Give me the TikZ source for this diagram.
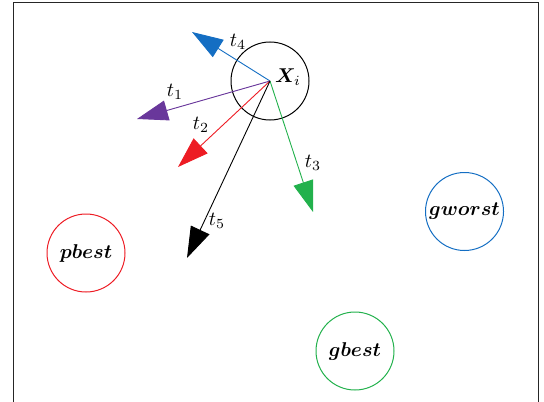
\documentclass[tikz,border=0pt]{standalone}
\usepackage{bm}
\usetikzlibrary{arrows.meta}
\definecolor{cblue}{RGB}{20,110,195}
\definecolor{cpurple}{RGB}{105,55,155}
\definecolor{cred}{RGB}{237,28,36}
\definecolor{cgreen}{RGB}{34,177,76}
\begin{document}
\begin{tikzpicture}[x=0.5pt,y=-0.5pt,
  ring/.style={circle,draw,line width=0.5pt,minimum size=39pt,inner sep=0pt},
  vec/.style={line width=0.45pt,-{Triangle[length=15.5pt,width=10.2pt]}},
  lbl/.style={inner sep=0pt}]
\useasboundingbox (0,0) rectangle (544,401);
\clip (0,0) rectangle (544,401);
\draw[line width=0.5pt,draw=black!85] (13,3) rectangle (538,420);
\node[ring] (xi) at (270,81) {};
\coordinate (o) at (270,81);
\node[lbl] (xl) at (288,77) {$\bm{X}_{i}$};
\node[ring,draw=cblue] (gw) at (464.5,211.5) {$\bm{gworst}$};
\node[ring,draw=cred] (pb) at (86,253) {$\bm{pbest}$};
\node[ring,draw=cgreen] (gb) at (355,351) {$\bm{gbest}$};
\coordinate (e4) at (192,32);
\coordinate (e1) at (137,119);
\coordinate (e2) at (178,167);
\coordinate (e3) at (313,212);
\coordinate (e5) at (187,258);
\draw[vec,cblue] (o) -- (e4);
\draw[vec,cpurple] (o) -- (e1);
\draw[vec,cred] (o) -- (e2);
\draw[vec,cgreen] (o) -- (e3);
\draw[vec,black] (o) -- (e5);
\node[lbl] (l4) at (238,42) {$t_4$};
\node[lbl] (l1) at (175,92) {$t_1$};
\node[lbl] (l2) at (201,125) {$t_2$};
\node[lbl] (l3) at (313,163) {$t_3$};
\node[lbl] (l5) at (217,221) {$t_5$};
\end{tikzpicture}
\end{document}
